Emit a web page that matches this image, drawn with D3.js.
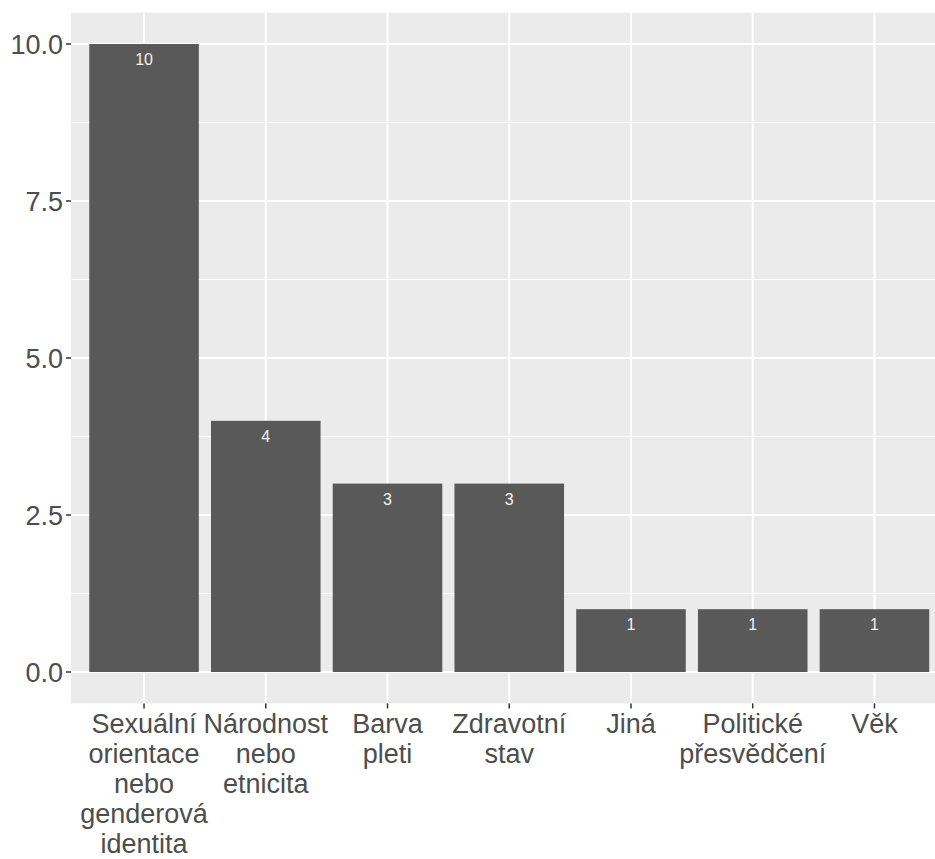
<!DOCTYPE html>
<html>
<head>
<meta charset="utf-8">
<script src="https://cdn.jsdelivr.net/npm/d3@7"></script>
<style>
  html, body { margin: 0; padding: 0; background: #ffffff; }
  svg { display: block; }
  text { font-family: "Liberation Sans", Arial, sans-serif; }
</style>
</head>
<body>
<script>
const categories = [
  "Sexuální orientace nebo genderová identita",
  "Národnost nebo etnicita",
  "Barva pleti",
  "Zdravotní stav",
  "Jiná",
  "Politické přesvědčení",
  "Věk"
];
const labelLines = [
  ["Sexuální", "orientace", "nebo", "genderová", "identita"],
  ["Národnost", "nebo", "etnicita"],
  ["Barva", "pleti"],
  ["Zdravotní", "stav"],
  ["Jiná"],
  ["Politické", "přesvědčení"],
  ["Věk"]
];
const values = [10, 4, 3, 3, 1, 1, 1];
const yTicks = [0, 2.5, 5, 7.5, 10];
const yMinor = [1.25, 3.75, 6.25, 8.75];

const W = 935, H = 859;
const panel = { left: 71, right: 947.5, top: 12.6, bottom: 703.4 };

const svg = d3.select("body").append("svg")
  .attr("width", W).attr("height", H);

// ggplot-style discrete scale: 0.6 unit expansion each side, bar width 0.9
const x = d3.scalePoint()
  .domain(categories)
  .range([panel.left, panel.right])
  .padding(0.6);
const xc = d => x(d);
const barW = 0.9 * x.step();

const y = d3.scaleLinear().domain([-0.5, 10.5]).range([panel.bottom, panel.top]);

// panel background
svg.append("rect")
  .attr("x", panel.left).attr("y", panel.top)
  .attr("width", panel.right - panel.left).attr("height", panel.bottom - panel.top)
  .attr("fill", "#EBEBEB");

// minor grid
svg.selectAll("line.minor").data(yMinor).enter().append("line")
  .attr("x1", panel.left).attr("x2", panel.right)
  .attr("y1", d => y(d)).attr("y2", d => y(d))
  .attr("stroke", "#ffffff").attr("stroke-width", 1);

// major grid
svg.selectAll("line.majorY").data(yTicks).enter().append("line")
  .attr("x1", panel.left).attr("x2", panel.right)
  .attr("y1", d => y(d)).attr("y2", d => y(d))
  .attr("stroke", "#ffffff").attr("stroke-width", 2);
svg.selectAll("line.majorX").data(categories).enter().append("line")
  .attr("x1", d => xc(d)).attr("x2", d => xc(d))
  .attr("y1", panel.top).attr("y2", panel.bottom)
  .attr("stroke", "#ffffff").attr("stroke-width", 2);

// bars
svg.selectAll("rect.bar").data(categories).enter().append("rect")
  .attr("x", d => xc(d) - barW / 2)
  .attr("width", barW)
  .attr("y", (d, i) => y(values[i]))
  .attr("height", (d, i) => y(0) - y(values[i]))
  .attr("fill", "#595959");

// value labels
svg.selectAll("text.val").data(categories).enter().append("text")
  .attr("x", d => xc(d))
  .attr("y", (d, i) => y(values[i]) + 21)
  .attr("text-anchor", "middle")
  .attr("font-size", 16)
  .attr("fill", "#F2F2F2")
  .text((d, i) => values[i]);

// y axis ticks + labels
const yFmt = d3.format(".1f");
svg.selectAll("line.ytick").data(yTicks).enter().append("line")
  .attr("x1", panel.left - 5).attr("x2", panel.left)
  .attr("y1", d => y(d)).attr("y2", d => y(d))
  .attr("stroke", "#333333").attr("stroke-width", 1.5);
svg.selectAll("text.ylab").data(yTicks).enter().append("text")
  .attr("x", panel.left - 8)
  .attr("y", d => y(d))
  .attr("dy", "0.36em")
  .attr("text-anchor", "end")
  .attr("font-size", 27)
  .attr("fill", "#4D4D4D")
  .text(d => yFmt(d));

// x axis ticks + labels
svg.selectAll("line.xtick").data(categories).enter().append("line")
  .attr("x1", d => xc(d)).attr("x2", d => xc(d))
  .attr("y1", panel.bottom).attr("y2", panel.bottom + 5)
  .attr("stroke", "#333333").attr("stroke-width", 1.5);
const xl = svg.selectAll("text.xlab").data(categories).enter().append("text")
  .attr("text-anchor", "middle")
  .attr("font-size", 27)
  .attr("fill", "#4D4D4D");
xl.each(function (d, i) {
  const t = d3.select(this);
  labelLines[i].forEach((ln, k) => {
    t.append("tspan").attr("x", xc(d)).attr("y", 733 + k * 30).text(ln);
  });
});
</script>
</body>
</html>
